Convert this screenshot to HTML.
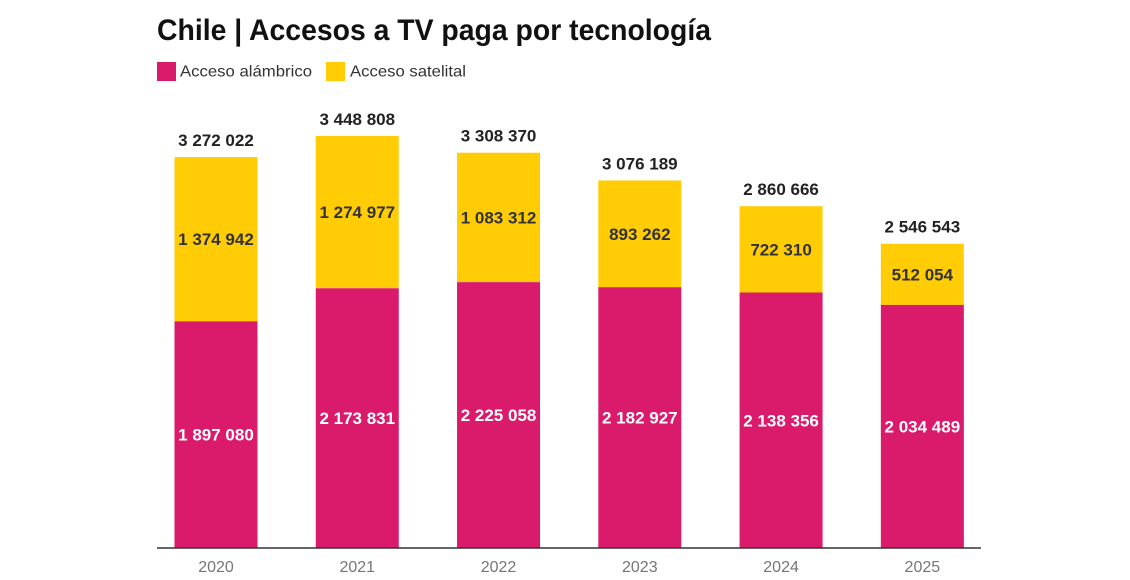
<!DOCTYPE html>
<html>
<head>
<meta charset="utf-8">
<style>
html,body{margin:0;padding:0;background:#fff;}
svg{display:block;}
text{font-family:"Liberation Sans",Arial,sans-serif;}
</style>
</head>
<body>
<svg width="1130" height="580" viewBox="0 0 1130 580" xmlns="http://www.w3.org/2000/svg">
  <rect width="1130" height="580" fill="#fff"/>
  <!-- Title -->
  <text x="157" y="40" font-size="30" font-weight="bold" fill="#111" textLength="554" lengthAdjust="spacingAndGlyphs">Chile | Accesos a TV paga por tecnología</text>
  <!-- Legend -->
  <rect x="157" y="62" width="19" height="19" fill="#DA1A6B"/>
  <text x="180" y="76.5" font-size="16" fill="#333" textLength="132" lengthAdjust="spacingAndGlyphs">Acceso alámbrico</text>
  <rect x="326" y="62" width="19" height="19" fill="#FFCC05"/>
  <text x="350" y="76.5" font-size="16" fill="#333" textLength="116" lengthAdjust="spacingAndGlyphs">Acceso satelital</text>

  <!-- Bars -->
  <g>
    <!-- 2020 -->
    <rect x="174.5" y="157.06" width="83" height="164.28" fill="#FFCC05"/>
    <rect x="174.5" y="321.34" width="83" height="226.66" fill="#DA1A6B"/>
    <!-- 2021 -->
    <rect x="315.77" y="135.93" width="83" height="152.34" fill="#FFCC05"/>
    <rect x="315.77" y="288.27" width="83" height="259.73" fill="#DA1A6B"/>
    <!-- 2022 -->
    <rect x="457.04" y="152.72" width="83" height="129.43" fill="#FFCC05"/>
    <rect x="457.04" y="282.15" width="83" height="265.85" fill="#DA1A6B"/>
    <!-- 2023 -->
    <rect x="598.31" y="180.46" width="83" height="106.73" fill="#FFCC05"/>
    <rect x="598.31" y="287.19" width="83" height="260.81" fill="#DA1A6B"/>
    <!-- 2024 -->
    <rect x="739.58" y="206.21" width="83" height="86.30" fill="#FFCC05"/>
    <rect x="739.58" y="292.51" width="83" height="255.49" fill="#DA1A6B"/>
    <!-- 2025 -->
    <rect x="880.85" y="243.74" width="83" height="61.18" fill="#FFCC05"/>
    <rect x="880.85" y="304.92" width="83" height="243.08" fill="#DA1A6B"/>
  </g>

  <!-- Axis -->
  <line x1="157" y1="548" x2="981" y2="548" stroke="#333" stroke-width="1.5"/>

  <!-- Total labels -->
  <g font-size="17" font-weight="bold" fill="#222" text-anchor="middle">
    <text x="216" y="146">3 272 022</text>
    <text x="357.27" y="125">3 448 808</text>
    <text x="498.54" y="141.7">3 308 370</text>
    <text x="639.81" y="169.5">3 076 189</text>
    <text x="781.08" y="195.2">2 860 666</text>
    <text x="922.35" y="232.7">2 546 543</text>
  </g>

  <!-- Yellow segment labels -->
  <g font-size="17" font-weight="bold" fill="#333" text-anchor="middle">
    <text x="216" y="245.2">1 374 942</text>
    <text x="357.27" y="218.1">1 274 977</text>
    <text x="498.54" y="223.4">1 083 312</text>
    <text x="639.81" y="239.8">893 262</text>
    <text x="781.08" y="255.4">722 310</text>
    <text x="922.35" y="280.3">512 054</text>
  </g>

  <!-- Magenta segment labels -->
  <g font-size="17" font-weight="bold" fill="#fff" text-anchor="middle">
    <text x="216" y="440.7">1 897 080</text>
    <text x="357.27" y="424.1">2 173 831</text>
    <text x="498.54" y="421.1">2 225 058</text>
    <text x="639.81" y="423.6">2 182 927</text>
    <text x="781.08" y="426.3">2 138 356</text>
    <text x="922.35" y="432.5">2 034 489</text>
  </g>

  <!-- Year labels -->
  <g font-size="16" fill="#757575" text-anchor="middle">
    <text x="216" y="572">2020</text>
    <text x="357.27" y="572">2021</text>
    <text x="498.54" y="572">2022</text>
    <text x="639.81" y="572">2023</text>
    <text x="781.08" y="572">2024</text>
    <text x="922.35" y="572">2025</text>
  </g>
</svg>
</body>
</html>
